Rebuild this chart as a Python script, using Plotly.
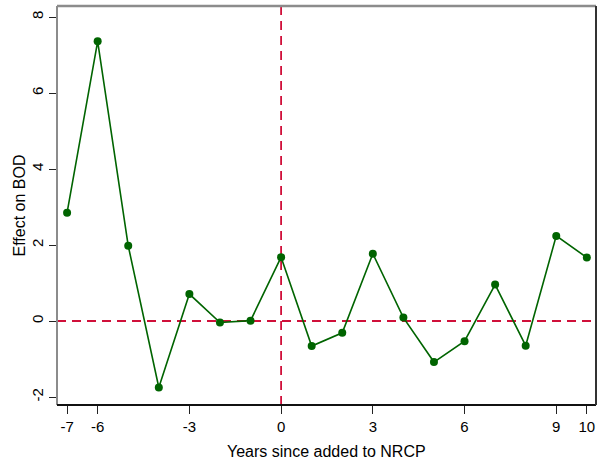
import plotly.graph_objects as go

years = [-7, -6, -5, -4, -3, -2, -1, 0, 1, 2, 3, 4, 5, 6, 7, 8, 9, 10]
effect = [2.85, 7.36, 1.98, -1.75, 0.71, -0.04, 0.01, 1.68, -0.66, -0.31,
          1.77, 0.09, -1.08, -0.53, 0.96, -0.65, 2.24, 1.67]
x_ticks = [-7, -6, -3, 0, 3, 6, 9, 10]
y_ticks = [-2, 0, 2, 4, 6, 8]
x_title = "Years since added to NRCP"
y_title = "Effect on BOD"

GREEN = "#006400"
RED = "#d0103a"
FONT = "Liberation Sans, Arial, sans-serif"

fig = go.Figure()
fig.add_trace(go.Scatter(
    x=years, y=effect, mode="lines+markers",
    line=dict(color=GREEN, width=1.6),
    marker=dict(color=GREEN, size=8),
    showlegend=False, hoverinfo="skip",
))

fig.add_hline(y=0, line=dict(color=RED, width=1.8, dash="9px,6px"), layer="below")
fig.add_vline(x=0, line=dict(color=RED, width=1.8, dash="9px,6px"), layer="below")

# frame: top/left gray, bottom/right dark
fig.add_shape(type="line", xref="paper", yref="paper", x0=0, x1=1, y0=1, y1=1,
              line=dict(color="#8c8c8c", width=2.5))
fig.add_shape(type="line", xref="paper", yref="paper", x0=0, x1=0, y0=0, y1=1,
              line=dict(color="#8c8c8c", width=2))
fig.add_shape(type="line", xref="paper", yref="paper", x0=0, x1=1, y0=0, y1=0,
              line=dict(color="#111111", width=2))
fig.add_shape(type="line", xref="paper", yref="paper", x0=1, x1=1, y0=0, y1=1,
              line=dict(color="#333333", width=2))

fig.add_annotation(text=x_title, xref="paper", yref="paper", x=0.5, y=0,
                   xanchor="center", yanchor="middle", yshift=-46,
                   showarrow=False, font=dict(size=16))
fig.add_annotation(text=y_title, xref="paper", yref="paper", x=0, y=0.5,
                   xanchor="center", yanchor="middle", xshift=-38, textangle=-90,
                   showarrow=False, font=dict(size=16))

fig.update_layout(
    width=597, height=463,
    margin=dict(l=57, r=1, t=6, b=58),
    paper_bgcolor="white", plot_bgcolor="white",
    font=dict(family=FONT, size=14, color="black"),
    xaxis=dict(
        range=[-7.33, 10.3], tickmode="array", tickvals=x_ticks,
        ticktext=[str(v) for v in x_ticks],
        ticks="outside", ticklen=8, tickcolor="#222", tickwidth=1,
        showgrid=False, zeroline=False, showline=False, automargin=False,
        tickfont=dict(size=15),
    ),
    yaxis=dict(
        range=[-2.21, 8.29], tickmode="array", tickvals=y_ticks,
        ticktext=[str(v) for v in y_ticks], tickangle=-90,
        ticks="outside", ticklen=7, tickcolor="#222", tickwidth=1,
        showgrid=False, zeroline=False, showline=False, automargin=False,
        tickfont=dict(size=15),
    ),
)

fig.write_html("out.html", config={"displayModeBar": False},
               post_script="document.body.style.margin='0px';")
